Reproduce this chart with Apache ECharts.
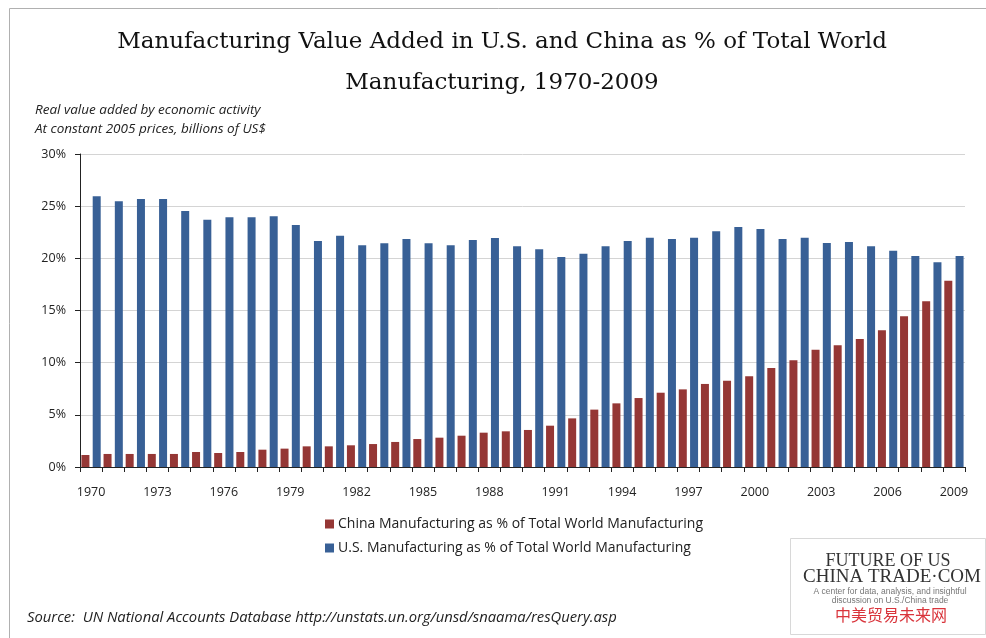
<!DOCTYPE html>
<html>
<head>
<meta charset="utf-8">
<script src="https://cdn.jsdelivr.net/npm/echarts@6/dist/echarts.min.js"></script>
<style>
html,body{margin:0;padding:0;background:#fff;}
#chart{width:986px;height:638px;}
</style>
</head>
<body>
<div id="chart"></div>
<script>
var years = ['1970','1971','1972','1973','1974','1975','1976','1977','1978','1979',
  '1980','1981','1982','1983','1984','1985','1986','1987','1988','1989',
  '1990','1991','1992','1993','1994','1995','1996','1997','1998','1999',
  '2000','2001','2002','2003','2004','2005','2006','2007','2008','2009'];
var chinaShare = [1.15,1.25,1.25,1.25,1.25,1.44,1.34,1.44,1.66,1.76,
  1.98,1.98,2.08,2.2,2.4,2.68,2.81,3.0,3.29,3.42,
  3.55,3.96,4.66,5.5,6.1,6.61,7.12,7.44,7.96,8.27,
  8.69,9.49,10.22,11.25,11.66,12.27,13.1,14.44,15.88,17.86];
var usShare = [25.94,25.46,25.69,25.69,24.54,23.71,23.93,23.93,24.03,23.19,
  21.66,22.17,21.25,21.44,21.85,21.44,21.25,21.76,21.95,21.15,
  20.86,20.13,20.45,21.15,21.66,21.98,21.85,21.98,22.59,23.0,
  22.81,21.85,21.98,21.47,21.57,21.15,20.73,20.22,19.62,20.22];
var seriesNames = ['China Manufacturing as % of Total World Manufacturing',
  'U.S. Manufacturing as % of Total World Manufacturing'];
var yTicks = {min: 0, max: 30, interval: 5};

var chart = echarts.init(document.getElementById('chart'));
var sans = 'Open Sans';
chart.setOption({
  animation: false,
  backgroundColor: '#ffffff',
  title: [
    {
      text: 'Manufacturing Value Added in U.S. and China as % of Total World\nManufacturing, 1970-2009',
      left: 502, top: 22, textAlign: 'center', padding: 0,
      textStyle: {fontFamily: 'DejaVu Serif', fontSize: 23, fontWeight: 'normal', color: '#111', lineHeight: 41}
    },
    {
      text: 'Real value added by economic activity\nAt constant 2005 prices, billions of US$',
      left: 35, top: 101, padding: 0,
      textStyle: {fontFamily: sans, fontStyle: 'italic', fontSize: 13.5, fontWeight: 'normal', color: '#222', lineHeight: 19}
    },
    {
      text: 'Source:  UN National Accounts Database http://unstats.un.org/unsd/snaama/resQuery.asp',
      left: 27, top: 610, padding: 0,
      textStyle: {fontFamily: sans, fontStyle: 'italic', fontSize: 14.8, fontWeight: 'normal', color: '#222'}
    }
  ],
  legend: {
    orient: 'vertical', left: 325, top: 517, padding: 0,
    itemWidth: 9, itemHeight: 9, itemGap: 10,
    icon: 'rect',
    textStyle: {fontFamily: sans, fontSize: 14, color: '#222', padding: [0,0,0,-1]},
    data: seriesNames
  },
  grid: {left: 80, right: 21, top: 154, bottom: 171, containLabel: false},
  xAxis: {
    type: 'category', data: years,
    axisLine: {lineStyle: {color: '#222', width: 1}},
    axisTick: {show: true, interval: 0, length: 5, alignWithLabel: false, lineStyle: {color: '#222'}},
    axisLabel: {interval: 2, margin: 19, fontFamily: sans, fontSize: 12.5, color: '#222'},
    splitLine: {show: false}
  },
  yAxis: {
    type: 'value', min: yTicks.min, max: yTicks.max, interval: yTicks.interval,
    axisLine: {show: true, lineStyle: {color: '#222', width: 1}},
    axisTick: {show: true, length: 5, lineStyle: {color: '#222'}},
    axisLabel: {formatter: '{value}%', margin: 14, fontFamily: sans, fontSize: 12.5, color: '#222'},
    splitLine: {show: true, lineStyle: {color: '#d4d4d4', width: 1}}
  },
  series: [
    {name: seriesNames[0], type: 'bar', data: chinaShare, barWidth: 8, barGap: '41%',
      itemStyle: {color: '#953735'}},
    {name: seriesNames[1], type: 'bar', data: usShare, barWidth: 8, barGap: '41%',
      itemStyle: {color: '#386096'}}
  ],
  graphic: [
    {type: 'rect', silent: true, shape: {x: 9.5, y: 8.5, width: 1000, height: 700},
      style: {fill: 'none', stroke: '#b0b0b0', lineWidth: 1}, z: -1},
    {type: 'rect', silent: true, shape: {x: 790.5, y: 538.5, width: 195, height: 96},
      style: {fill: '#ffffff', stroke: '#d8d8d8', lineWidth: 1}},
    {type: 'text', silent: true, style: {x: 888, y: 561, text: 'FUTURE OF US', textAlign: 'center', textVerticalAlign: 'middle',
      font: '18px "Liberation Serif"', fill: '#333'}},
    {type: 'text', silent: true, style: {x: 892, y: 577, text: 'CHINA TRADE\u00b7COM', textAlign: 'center', textVerticalAlign: 'middle',
      font: '19px "Liberation Serif"', fill: '#333'}},
    {type: 'text', silent: true, style: {x: 890, y: 592, text: 'A center for data, analysis, and insightful', textAlign: 'center', textVerticalAlign: 'middle',
      font: '8.5px "Liberation Sans"', fill: '#777'}},
    {type: 'text', silent: true, style: {x: 890, y: 601, text: 'discussion on U.S./China trade', textAlign: 'center', textVerticalAlign: 'middle',
      font: '8.5px "Liberation Sans"', fill: '#777'}},
    {type: 'text', silent: true, style: {x: 891, y: 615, text: '中美贸易未来网', textAlign: 'center', textVerticalAlign: 'middle',
      font: '16px "Noto Sans CJK SC"', fill: '#d9343b'}}
  ]
});
</script>
</body>
</html>
